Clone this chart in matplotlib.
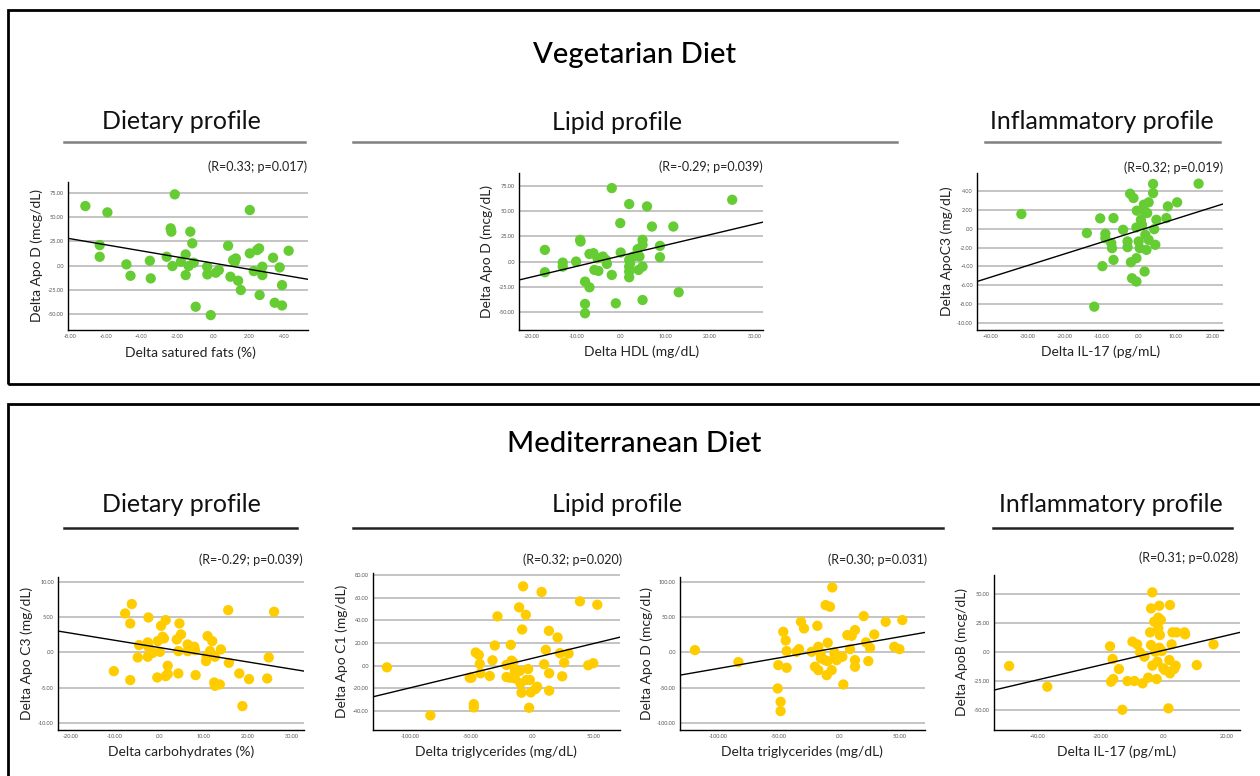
import matplotlib
matplotlib.use("Agg")
import matplotlib.pyplot as plt
import numpy as np
from matplotlib.patches import Rectangle
from matplotlib.lines import Line2D
from matplotlib.ticker import FuncFormatter

plt.rcParams['font.family'] = ['Lato', 'DejaVu Sans']

GREEN = '#66cc33'
YELLOW = '#ffcc00'

# ---------------- data ----------------
# Vegetarian: Delta saturated fats vs Delta Apo D
veg_fat_x = [-7.13, -5.90, -6.33, -6.33, -4.84, -4.61, -3.53, -3.48, -2.59, -2.27, -2.37, -2.33, -2.14,
             -1.80, -1.53, -1.53, -1.36, -1.27, -1.16, -1.08, -0.97, -0.33, -0.32, -0.13, 0.15, 0.32,
             0.84, 0.97, 1.12, 1.21, 1.27, 1.40, 1.55, 2.05, 2.05, 2.27, 2.46, 2.57, 2.60, 2.75, 2.75,
             3.35, 3.44, 3.72, 3.85, 3.85, 4.22]
veg_fat_y = [61.3, 54.8, 21.2, 9.2, 1.4, -10.3, 5.1, -13.0, 9.2, -0.3, 38.4, 35.0, 73.3,
             4.1, 11.6, -9.6, -0.3, 35.0, 23.0, 3.1, -42.1, -1.0, -8.9, -50.7, -7.2, -4.5,
             20.5, -11.3, 5.8, 4.1, 7.5, -15.4, -25.0, 57.2, 12.7, -5.5, 16.1, 17.8, -30.1, -1.0, -9.6,
             8.2, -38.0, -1.7, -19.9, -40.8, 15.4]
veg_fat_fit = [2.7, -3.14]          # intercept, slope

# Vegetarian: Delta HDL vs Delta Apo D
veg_hdl_x = [-17.0, -17.0, -13.0, -13.0, -10.0, -9.1, -9.0, -8.0, -8.0, -8.0, -7.0, -7.0, -6.1, -5.9,
             -5.0, -5.2, -4.0, -3.1, -3.3, -2.0, -2.0, -1.1, -0.1, 0.0, 1.9, 1.9, 1.9, 1.9, 1.9, 2.8,
             3.8, 4.0, 4.2, 4.9, 4.9, 4.9, 4.9, 5.9, 7.0, 8.8, 8.8, 11.8, 13.0, 25.0, 2.1]
veg_hdl_y = [11.6, -10.6, -1.0, -5.0, 0.0, 21.6, 19.9, -19.9, -42.1, -51.4, -25.6, 7.6, 8.3, -8.3,
             -9.3, 3.3, 5.0, -2.3, 1.7, 73.0, -13.3, -41.5, 38.2, 9.0, 57.1, 1.7, -5.0, -10.0, -15.6, 5.0,
             12.3, -8.3, 5.0, 21.6, 16.6, -5.0, -38.2, 54.8, 34.8, 15.6, 4.3, 34.8, -30.5, 61.4, -1.7]
veg_hdl_fit = [5.66, 1.051]

# Vegetarian: Delta IL-17 vs Delta ApoC3
veg_il_x = [-31.7, -14.0, -10.4, -9.8, -9.0, -9.0, -7.4, -7.2, -6.8, -6.8, -12.0, -4.2, -3.0, -3.0,
            -2.3, -1.8, -2.1, -1.4, -0.6, -0.6, -0.5, -0.6, 0.0, 0.3, 0.6, 1.4, 1.8, 2.1, 1.6, 1.8,
            2.3, 2.7, 2.7, 3.9, 3.9, 4.2, 4.5, 4.8, 7.5, 7.9, 10.4, 16.2, 0.9]
veg_il_y = [1.57, -0.46, 1.11, -3.99, -0.53, -1.0, -1.53, -2.07, 1.14, -3.32, -8.31, -0.11, -1.35, -1.96,
            3.74, -5.28, -3.57, 3.28, -5.63, -3.14, 1.93, 0.14, -1.35, -2.07, 0.96, 2.57, 1.75, -2.25, -4.56, -0.64,
            1.68, 2.82, -1.18, 3.81, 4.78, -0.04, -1.71, 0.96, 1.14, 2.39, 2.82, 4.81, 0.43]
veg_il_fit = [-0.19, 0.1244]

# Mediterranean: Delta carbohydrates vs Delta Apo C3
med_carb_x = [-10.2, -7.65, -6.15, -6.5, -6.5, -4.8, -4.5, -2.55, -2.4, -2.4, -2.55, -1.4, -0.4, -0.3,
              0.2, 0.45, 0.8, 1.1, 1.5, 1.5, 1.95, 1.95, 4.0, 4.35, 4.35, 4.6, 4.95, 6.45, 6.45, 7.35,
              7.95, 8.1, 8.25, 10.6, 10.7, 10.95, 11.5, 12.0, 12.6, 12.45, 12.6, 13.7, 13.95, 15.6,
              15.75, 18.1, 18.8, 20.3, 24.4, 24.75, 25.95]
med_carb_y = [-2.65, 5.53, 6.86, 4.11, -3.92, -0.71, 1.04, 1.42, 4.96, 0.80, -0.61, -0.05, -3.55, 1.61,
              0.09, 3.78, 2.22, 1.99, 4.59, -3.36, -1.89, -3.07, 1.84, 0.19, -2.98, 4.11, 2.55, 1.13, 0.19, 0.80,
              0.80, 0.33, -3.22, -1.23, -0.52, 2.32, 0.19, 1.61, -0.61, -4.26, -4.73, -4.54, 0.43, 6.00,
              -1.47, -2.98, -7.61, -3.78, -3.69, -0.71, 5.77]
med_carb_fit = [0.70, -0.1023]

# Mediterranean: Delta triglycerides vs Delta Apo C1
med_tg1_x = [-118.9, -83.3, -51.1, -49.7, -47.8, -47.8, -46.2, -43.7, -42.9, -42.3, -34.7, -32.5, -30.6,
             -28.4, -21.0, -21.0, -18.3, -17.5, -16.9, -15.6, -14.2, -14.2, -10.7, -10.1, -9.6, -8.7, -8.2,
             -7.4, -5.2, -4.6, -3.3, -2.5, -1.9, -1.1, 2.7, 4.1, 7.7, 9.8, 11.2, 13.7, 13.9, 13.9, 20.8,
             22.7, 24.6, 26.2, 29.8, 39.1, 45.9, 50.0, 53.3]
med_tg1_y = [-1.5, -44.1, -10.7, -10.7, -34.1, -37.0, 11.6, 9.5, 1.5, -6.8, -9.2, 4.7, 17.8,
             43.6, 0.6, -10.1, -10.7, 18.4, 4.4, 3.0, -11.3, -4.1, 51.6, -4.7, -15.7, -24.0, 32.0,
             70.2, 45.0, -12.7, -3.0, -37.3, -12.7, -23.7, -20.7, -18.7, 65.2, 1.2, 13.9, 30.8, -6.8, -22.2, 24.9,
             11.0, -9.5, 2.7, 10.7, 56.9, 0.3, 2.1, 53.9]
med_tg1_fit = [6.42, 0.2611]

# Mediterranean: Delta triglycerides vs Delta Apo D
med_tg2_x = [-119.0, -83.2, -50.8, -50.3, -48.4, -48.4, -46.2, -44.2, -43.4, -43.4, -35.2, -33.2, -31.6,
             -29.1, -22.8, -20.1, -18.1, -17.3, -17.3, -15.4, -15.1, -11.8, -11.3, -10.4, -9.6, -9.6, -7.7,
             -6.3, -5.8, -4.1, -3.6, -2.2, -0.8, 2.5, 3.3, 6.6, 8.8, 10.2, 12.9, 12.9, 12.9, 20.1, 22.0,
             23.9, 25.3, 28.8, 38.2, 45.3, 49.5, 51.9]
med_tg2_y = [3.3, -13.7, -51.1, -18.0, -70.0, -83.2, 29.3, 17.0, 1.9, -21.7, 0.9, 4.7, 43.5,
             34.0, 0.9, -20.3, 37.8, 8.0, -25.1, -1.4, -8.5, -10.9, 67.1, -32.2, 13.7, -12.3, 64.8,
             -25.1, 92.2, 0.0, -3.8, -10.9, -7.6, -6.1, -45.4, 24.6, 4.7, 23.6, 31.7, -10.9, -20.3, 51.5, 14.2,
             -12.3, 6.6, 25.5, 43.5, 8.0, 4.7, 45.9]
med_tg2_fit = [7.2, 0.300]

# Mediterranean: Delta IL-17 vs Delta ApoB
med_il_x = [-48.9, -36.8, -16.9, -16.1, -16.6, -15.9, -14.1, -13.0, -11.4, -9.8, -9.2, -8.3, -7.4, -6.6,
            -6.0, -4.8, -4.2, -3.9, -3.9, -3.5, -3.5, -2.9, -2.6, -2.1, -1.9, -1.6, -1.6, -1.3, -1.1,
            -0.8, -1.3, -0.5, 0.0, 0.5, 1.6, 1.9, 2.1, 2.1, 2.6, 2.9, 3.4, 3.9, 4.2, 6.7, 6.9, 10.6, 15.9]
med_il_y = [-12.3, -30.1, 4.6, -6.3, -25.8, -23.5, -14.9, -49.9, -25.2, 8.6, -25.2, 6.3, -0.6, -27.2,
            -4.3, -22.3, 16.6, 5.7, 37.2, 51.0, -12.0, 25.8, 0.0, -23.5, -8.6, 29.2, 20.1, 39.5, 14.3,
            27.2, 3.4, 0.6, -14.3, -15.8, -48.7, -7.2, 40.1, -18.6, 6.3, 16.6, -14.9, -12.0, 16.6, 16.6, 14.9, -11.5, 6.3]
med_il_fit = [1.15, 0.636]

annotations = ["(R=0.33; p=0.017)", "(R=-0.29; p=0.039)", "(R=0.32; p=0.019)",
               "(R=-0.29; p=0.039)", "(R=0.32; p=0.020)", "(R=0.30; p=0.031)", "(R=0.31; p=0.028)"]
x_labels = ["Delta satured fats (%)", "Delta HDL (mg/dL)", "Delta IL-17 (pg/mL)",
            "Delta carbohydrates (%)", "Delta triglycerides (mg/dL)", "Delta triglycerides (mg/dL)",
            "Delta IL-17 (pg/mL)"]
y_labels = ["Delta Apo D (mcg/dL)", "Delta Apo D (mcg/dL)", "Delta ApoC3 (mg/dL)",
            "Delta Apo C3 (mg/dL)", "Delta Apo C1 (mg/dL)", "Delta Apo D (mcg/dL)",
            "Delta ApoB (mcg/dL)"]
x_ticks = [[-8, -6, -4, -2, 0, 2, 4], [-20, -10, 0, 10, 20, 30], [-40, -30, -20, -10, 0, 10, 20],
           [-20, -10, 0, 10, 20, 30], [-100, -50, 0, 50], [-100, -50, 0, 50], [-40, -20, 0, 20]]
y_ticks = [[-50, -25, 0, 25, 50, 75], [-50, -25, 0, 25, 50, 75], [-10, -8, -6, -4, -2, 0, 2, 4],
           [-10, -5, 0, 5, 10], [-40, -20, 0, 20, 40, 60, 80], [-100, -50, 0, 50, 100], [-50, -25, 0, 25, 50]]
x_lims = [(-8.1, 5.3), (-22.8, 31.9), (-43.7, 22.8), (-22.8, 32.7), (-130.3, 71.9), (-131.3, 70.6), (-53.7, 24.3)]
y_lims = [(-66, 86), (-68, 88), (-10.8, 5.95), (-11.0, 10.7), (-57, 82), (-110, 107), (-67.3, 65.9)]

panels = [
    (veg_fat_x, veg_fat_y, veg_fat_fit, GREEN),
    (veg_hdl_x, veg_hdl_y, veg_hdl_fit, GREEN),
    (veg_il_x, veg_il_y, veg_il_fit, GREEN),
    (med_carb_x, med_carb_y, med_carb_fit, YELLOW),
    (med_tg1_x, med_tg1_y, med_tg1_fit, YELLOW),
    (med_tg2_x, med_tg2_y, med_tg2_fit, YELLOW),
    (med_il_x, med_il_y, med_il_fit, YELLOW),
]

# ---------------- layout (pixels) ----------------
W, H = 1260, 776
fig = plt.figure(figsize=(W / 100, H / 100), dpi=100)

def fx(px):
    return px / W

def fy(py):
    return 1 - py / H

# axes boxes: left, right, top, bottom (pixels)
boxes = [(68, 308, 182, 330), (519, 763, 173, 330), (977, 1223, 173, 330),
         (58, 304, 577, 730), (373, 620, 573, 730), (680, 925, 577, 730), (994, 1240, 575, 730)]
ann_pos = [(307, 167), (763, 167), (1223, 168), (303, 560), (622, 560), (927, 560), (1238, 558)]
ylab_x = [37, 487, 947, 27, 342, 647, 962]
xlab_pos = [(190, 353), (642, 352), (1101, 352), (181, 752), (496, 752), (802, 752), (1117, 752)]


def spss_fmt(v, pos):
    s = f"{v:.2f}"
    if s in ("0.00", "-0.00"):
        return ".00"
    return s

# panel frames
fig.patches.append(Rectangle((fx(8), fy(384)), fx(1400), fy(10) - fy(384), transform=fig.transFigure,
                             fill=False, edgecolor='black', linewidth=2))
fig.patches.append(Rectangle((fx(8), fy(900)), fx(1400), fy(404) - fy(900), transform=fig.transFigure,
                             fill=False, edgecolor='black', linewidth=2))

# titles
fig.text(fx(635), fy(63), "Vegetarian Diet", ha='center', va='baseline', fontsize=21, fontweight='medium')
fig.text(fx(634), fy(452), "Mediterranean Diet", ha='center', va='baseline', fontsize=21, fontweight='medium')

subtitles = [("Dietary profile", 181, 129, 64, 305, 142),
             ("Lipid profile", 617, 130, 353, 897, 142),
             ("Inflammatory profile", 1102, 129, 985, 1220, 142),
             ("Dietary profile", 181, 512, 64, 297, 528),
             ("Lipid profile", 617, 512, 353, 943, 528),
             ("Inflammatory profile", 1111, 512, 993, 1232, 528)]
for txt, cx, by, l0, l1, ly in subtitles:
    fig.text(fx(cx), fy(by), txt, ha='center', va='baseline', fontsize=18, color='#111111')
    fig.lines.append(Line2D([fx(l0), fx(l1)], [fy(ly), fy(ly)], transform=fig.transFigure,
                            color='#808080' if ly < 200 else '#222222', linewidth=1.8))

for i, (xs, ys, fit, col) in enumerate(panels):
    l, r, t, b = boxes[i]
    ax = fig.add_axes([fx(l), fy(b), fx(r) - fx(l), fy(t) - fy(b)])
    ax.set_xlim(*x_lims[i])
    ax.set_ylim(*y_lims[i])
    ax.set_xticks(x_ticks[i])
    ax.set_yticks(y_ticks[i])
    ax.xaxis.set_major_formatter(FuncFormatter(spss_fmt))
    ax.yaxis.set_major_formatter(FuncFormatter(spss_fmt))
    ax.tick_params(length=0, labelsize=4, labelcolor='#555555', pad=3)
    ax.grid(axis='y', color='#c4c4c4', linewidth=1.4)
    ax.set_axisbelow(True)
    for s in ('top', 'right'):
        ax.spines[s].set_visible(False)
    for s in ('left', 'bottom'):
        ax.spines[s].set_linewidth(1.0)
        ax.spines[s].set_color('black')
    ax.scatter(xs, ys, s=55, color=col, edgecolors='none', zorder=3)
    xl = np.array(x_lims[i])
    ax.plot(xl, fit[0] + fit[1] * xl, color='black', linewidth=1.0, zorder=4)
    ax.set_xlim(*x_lims[i])
    ax.patch.set_alpha(0)

    # labels
    ax.set_ylabel(y_labels[i], fontsize=10, va='center', color='#222222')
    ax.yaxis.set_label_coords((ylab_x[i] - l) / (r - l), 0.5)
    ax.set_xlabel(x_labels[i], fontsize=10, va='center', color='#222222')
    ax.xaxis.set_label_coords((xlab_pos[i][0] - l) / (r - l), (b - xlab_pos[i][1]) / (b - t))

    ax_, ay_ = ann_pos[i]
    fig.text(fx(ax_), fy(ay_), annotations[i], ha='right', va='center', fontsize=9, color='#222222')

fig.savefig("out.png", dpi=100)
